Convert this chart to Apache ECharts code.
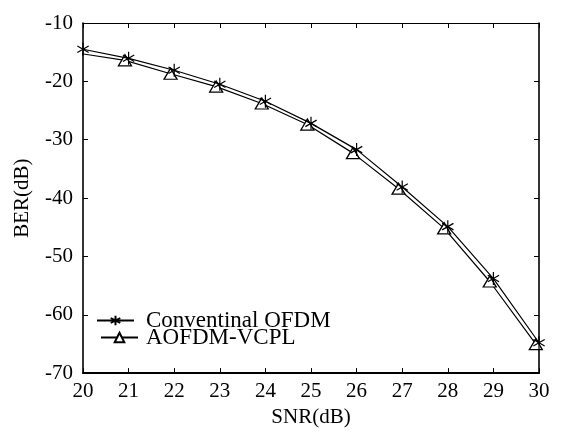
<!DOCTYPE html>
<html>
<head>
<meta charset="utf-8">
<script src="https://cdn.jsdelivr.net/npm/echarts@6/dist/echarts.min.js"></script>
<style>
  html, body { margin: 0; padding: 0; background: #fff; }
  #chart { width: 563px; height: 433px; }
</style>
</head>
<body>
<div id="chart"></div>
<script>
// SNR sample points (dB) for each scheme
const snrConventional = [20, 21, 22, 23, 24, 25, 26, 27, 28, 29, 30];
const snrAofdm = [19.92, 20.92, 21.92, 22.92, 23.92, 24.92, 25.92, 26.92, 27.92, 28.92, 29.93];
// BER values (dB)
const berConventional = [-14.5, -16.05, -18.1, -20.5, -23.4, -27.2, -31.7, -38.1, -44.9, -53.8, -64.8];
const berAofdm = [-15.2, -16.4, -18.7, -20.9, -23.8, -27.4, -32.3, -38.4, -45.2, -54.3, -65.05];
const seriesNames = ['Conventinal OFDM', 'AOFDM-VCPL'];
const xTicks = { min: 20, max: 30, step: 1 };
const yTicks = { min: -70, max: -10, step: 10 };

const FONT = '"Liberation Serif", "Times New Roman", serif';
const asterisk = 'path://M0,-1L0,1M-0.87,-0.5L0.87,0.5M-0.87,0.5L0.87,-0.5';

const chart = echarts.init(document.getElementById('chart'), null, { renderer: 'canvas' });

function pairs(xs, ys) { return xs.map((x, i) => [x, ys[i]]); }

const axisText = { color: '#000', fontFamily: FONT, fontSize: 21 };

chart.setOption({
  animation: false,
  backgroundColor: '#fff',
  grid: { left: 83, right: 24, top: 23, bottom: 50, containLabel: false },
  legend: [
    {
      data: [seriesNames[0]], left: 91, top: 304, orient: 'vertical',
      itemWidth: 37, itemHeight: 12, itemGap: 0,
      textStyle: { color: '#000', fontFamily: FONT, fontSize: 23, padding: [0, 0, 0, 7] }
    },
    {
      data: [seriesNames[1]], left: 95, top: 321, orient: 'vertical',
      itemWidth: 37, itemHeight: 12, itemGap: 0,
      textStyle: { color: '#000', fontFamily: FONT, fontSize: 23, padding: [0, 0, 0, 3] }
    }
  ],
  xAxis: [
    {
      type: 'value', min: xTicks.min, max: xTicks.max, interval: xTicks.step,
      name: 'SNR(dB)', nameLocation: 'middle', nameGap: 17,
      nameTextStyle: axisText,
      axisLine: { show: true, lineStyle: { color: '#000', width: 2 } },
      axisTick: { show: true, inside: true, length: 5, lineStyle: { color: '#000', width: 1 } },
      axisLabel: Object.assign({ margin: 8 }, axisText),
      splitLine: { show: false }
    },
    {
      type: 'value', position: 'top', min: xTicks.min, max: xTicks.max, interval: xTicks.step,
      axisLine: { show: true, lineStyle: { color: '#000', width: 1.2 } },
      axisTick: { show: true, inside: true, length: 5, lineStyle: { color: '#000', width: 1 } },
      axisLabel: { show: false }, splitLine: { show: false }
    }
  ],
  yAxis: [
    {
      type: 'value', min: yTicks.min, max: yTicks.max, interval: yTicks.step,
      name: 'BER(dB)', nameLocation: 'middle', nameGap: 50,
      nameTextStyle: axisText,
      axisLine: { show: true, lineStyle: { color: '#000', width: 1.6 } },
      axisTick: { show: true, inside: true, length: 5, lineStyle: { color: '#000', width: 1 } },
      axisLabel: Object.assign({ margin: 10 }, axisText),
      splitLine: { show: false }
    },
    {
      type: 'value', position: 'right', min: yTicks.min, max: yTicks.max, interval: yTicks.step,
      axisLine: { show: true, lineStyle: { color: '#000', width: 1.6 } },
      axisTick: { show: true, inside: true, length: 5, lineStyle: { color: '#000', width: 1 } },
      axisLabel: { show: false }, splitLine: { show: false }
    }
  ],
  series: [
    {
      name: seriesNames[0], type: 'line', xAxisIndex: 0, yAxisIndex: 0,
      data: pairs(snrConventional, berConventional),
      symbol: asterisk, symbolSize: 13, symbolKeepAspect: true,
      lineStyle: { color: '#000', width: 1.2 },
      itemStyle: { color: '#000', borderColor: '#000', borderWidth: 1.2 },
      z: 3
    },
    {
      name: seriesNames[1], type: 'line', xAxisIndex: 0, yAxisIndex: 0,
      data: pairs(snrAofdm, berAofdm),
      symbol: 'triangle', symbolSize: [13, 11],
      lineStyle: { color: '#000', width: 1.2 },
      itemStyle: { color: '#fff', borderColor: '#000', borderWidth: 1.3 },
      z: 2
    }
  ]
});
</script>
</body>
</html>
